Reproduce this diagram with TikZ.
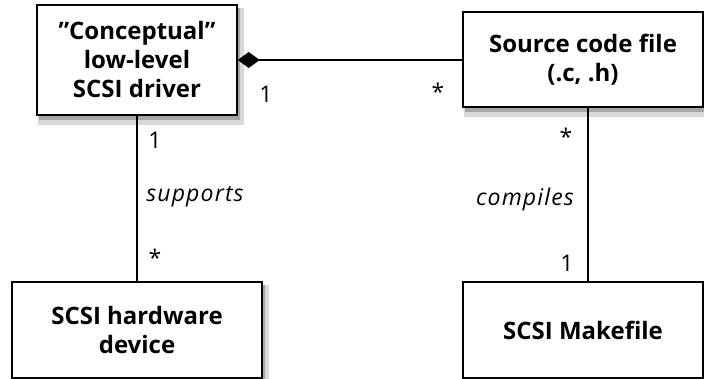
\documentclass[tikz,border=0pt]{standalone}
\usepackage{fontspec}
\setmainfont{Open Sans}
\usetikzlibrary{arrows.meta}
\begin{document}
\begin{tikzpicture}[x=1pt,y=-1pt,
  box/.style={draw=black, line width=1.4pt, fill=white, align=center,
    font=\fontsize{24}{29}\selectfont\bfseries, inner sep=0pt},
  lbl/.style={font=\fontsize{23}{26}\selectfont, inner sep=0pt},
  ital/.style={font=\fontsize{23}{26}\selectfont\itshape\addfontfeature{LetterSpace=5}, inner sep=0pt},
  shd/.style={fill=black!15},
  shdd/.style={fill=black!35},
  conn/.style={line width=1.4pt}]
\useasboundingbox (0,0) rectangle (704,379);
% shadows (drawn first, behind the boxes)
\fill[shd] (38,8) rectangle (244,125);
\fill[shdd] (39,8) rectangle (240,120);
\fill[shd] (464,15) rectangle (704,117);
\fill[shdd] (465,15) rectangle (704,112);
\fill[shd] (13,285) rectangle (269,379);
\fill[shdd] (14,285) rectangle (265,379);
\fill[shd] (464,285) rectangle (704,379);
\fill[shdd] (465,285) rectangle (704,379);
\node[box, minimum width=200pt, minimum height=110pt] (A) at (137,60) {"Conceptual"\\low-level\\SCSI driver};
\node[box, minimum width=240pt, minimum height=95pt] (B) at (583,59.5) {Source code file\\(.c, .h)};
\node[box, minimum width=250pt, minimum height=96pt] (C) at (137,330) {SCSI hardware\\device};
\node[box, minimum width=240pt, minimum height=96pt] (D) at (583,330) {SCSI Makefile};
\draw[conn, {Diamond[length=22pt,width=16pt]}-] (A.east) -- (A.east -| B.west);
\draw[conn] (A.south) -- (C.north);
\coordinate (Bs) at (588,107);
\draw[conn] (Bs) -- (Bs |- D.north);
\node[lbl] (l1) at (266,94) {1};
\node[lbl] (l2) at (438,92) {*};
\node[lbl] (l3) at (155,140) {1};
\node[ital] (l4) at (195,197) {supports};
\node[lbl] (l5) at (155,258) {*};
\node[lbl] (l6) at (566,137) {*};
\node[ital] (l7) at (525,200) {compiles};
\node[lbl] (l8) at (567,263) {1};
\end{tikzpicture}
\end{document}
